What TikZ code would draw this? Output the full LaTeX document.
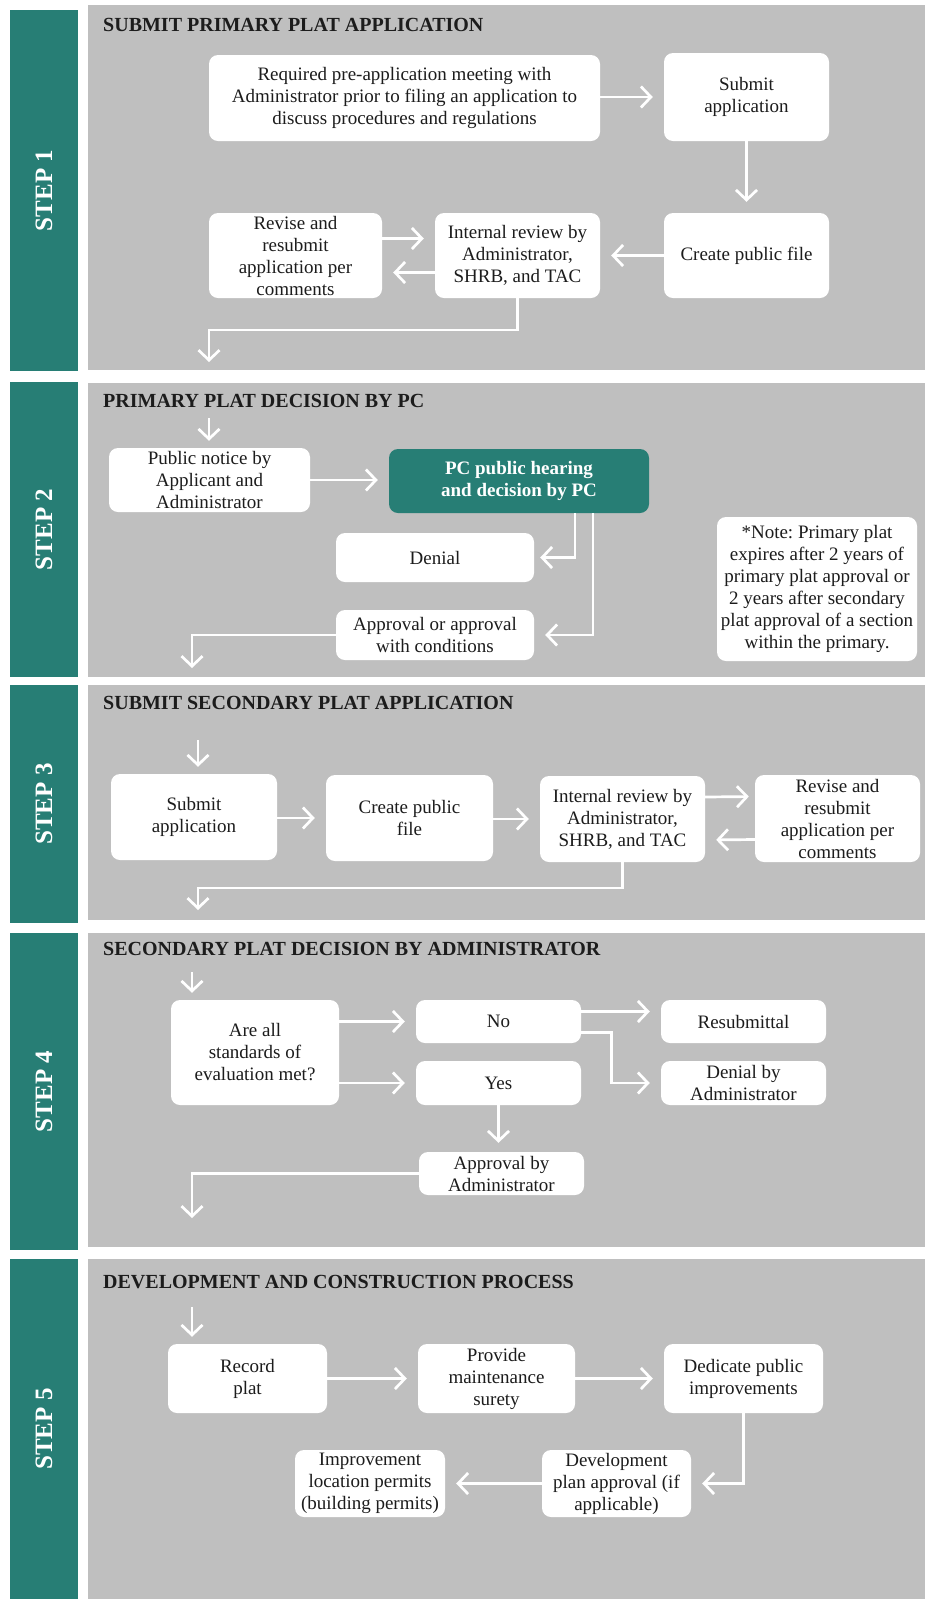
\documentclass[tikz,border=0pt]{standalone}
\usepackage{fontspec}
\setmainfont{Liberation Serif}
\usetikzlibrary{arrows.meta,calc}
\definecolor{stepteal}{RGB}{39,126,117}
\definecolor{panelgray}{RGB}{191,191,191}
\definecolor{inkgray}{RGB}{28,28,28}
\frenchspacing

\begin{document}
\begin{tikzpicture}[x=1pt,y=-1pt,
  box/.style={fill=white, rounded corners=9pt, align=center, inner sep=0pt,
    text=inkgray, font=\fontsize{19}{22}\selectfont},
  sz/.style 2 args={minimum width=#1pt, minimum height=#2pt},
  tealbox/.style={box, fill=stepteal, text=white, font=\bfseries\fontsize{19}{22}\selectfont},
  stepbar/.style={fill=stepteal, inner sep=0pt},
  panel/.style={fill=panelgray, inner sep=0pt},
  steplabel/.style={rotate=90, text=white, inner sep=0pt, font=\bfseries\fontsize{25}{25}\selectfont},
  heading/.style={anchor=west, inner sep=0pt, text=inkgray, font=\bfseries\fontsize{20}{20}\selectfont},
  link/.style={draw=white, line width=2.7pt, -{Straight Barb[length=10pt,width=21pt]}},
  arr/.style={link, shorten >=11pt},
  inarr/.style={link, shorten >=7pt},
  outarr/.style={link},
]
\fill[white] (0,0) rectangle (925,1599);
\useasboundingbox (0,0) rectangle (925,1599);

% ---------- bands: teal step bars and gray panels ----------
\node[panel, sz={837}{365}] (panel1) at (506.5,187.5) {};
\node[panel, sz={837}{294}] (panel2) at (506.5,530) {};
\node[panel, sz={837}{235}] (panel3) at (506.5,802.5) {};
\node[panel, sz={837}{314}] (panel4) at (506.5,1090) {};
\node[panel, sz={837}{340}] (panel5) at (506.5,1429) {};

\node[stepbar, sz={68}{361}] (bar1) at (44,190.5) {};
\node[stepbar, sz={68}{295}] (bar2) at (44,529.5) {};
\node[stepbar, sz={68}{238}] (bar3) at (44,804) {};
\node[stepbar, sz={68}{317}] (bar4) at (44,1091.5) {};
\node[stepbar, sz={68}{340}] (bar5) at (44,1429) {};

\node[steplabel] (lab1) at (bar1) {STEP 1};
\node[steplabel] (lab2) at (bar2) {STEP 2};
\node[steplabel] (lab3) at (bar3) {STEP 3};
\node[steplabel] (lab4) at (bar4) {STEP 4};
\node[steplabel] (lab5) at (bar5) {STEP 5};

% ---------- step 1 ----------
\node[heading] (h1) at (103,25) {SUBMIT PRIMARY PLAT APPLICATION};
\node[box, sz={391}{86}] (A) at (404.5,98) {Required pre-application meeting with\\Administrator prior to filing an application to\\discuss procedures and regulations};
\node[box, sz={165}{88}] (B) at (746.5,97) {Submit\\application};
\node[box, sz={165}{85}] (C) at (746.5,255.5) {Create public file};
\node[box, sz={165}{85}] (D) at (517.5,255.5) {Internal review by\\Administrator,\\SHRB, and TAC};
\node[box, sz={173}{85}] (E) at (295.5,255.5) {Revise and\\resubmit\\application per\\comments};
\coordinate (out1) at (209,362);

\draw[arr] (A.east |- B.west) -- (B.west);
\draw[arr] (B.south) -- (C.north);
\draw[arr] (C.west) -- (D.east);
\draw[arr] ($(E.east)+(0,-17)$) -- ($(D.west)+(0,-17)$);
\draw[arr] ($(D.west)+(0,17)$) -- ($(E.east)+(0,17)$);
\draw[outarr] (D.south) |- ($(out1)+(0,-32)$) -- (out1);

% ---------- step 2 ----------
\node[heading] (h2) at (103,401) {PRIMARY PLAT DECISION BY PC};
\coordinate (in2) at (209,418);
\node[box, sz={201}{64}] (F) at (209.5,480) {Public notice by\\Applicant and\\Administrator};
\node[tealbox, sz={260}{64}] (G) at (519,481) {PC public hearing\\and decision by PC};
\node[box, sz={198}{49}] (H) at (435,557.5) {Denial};
\node[box, sz={198}{50}] (I) at (435,635) {Approval or approval\\with conditions};
\node[box, sz={200}{144}] (J) at (817,589) {*Note: Primary plat\\expires after 2 years of\\primary plat approval or\\2 years after secondary\\plat approval of a section\\within the primary.};
\coordinate (out2) at (192,668);

\draw[inarr] (in2) -- (in2 |- F.north);
\draw[arr] (F.east) -- (F.east -| G.west);
\draw[link, shorten >=6pt] ($(G.south)+(56,0)$) |- (H.east);
\draw[arr] ($(G.south)+(74,0)$) |- (I.east);
\draw[outarr] (I.west) -| (out2);

% ---------- step 3 ----------
\node[heading] (h3) at (103,703) {SUBMIT SECONDARY PLAT APPLICATION};
\coordinate (in3) at (198,740);
\node[box, sz={166}{86}] (K) at (194,817) {Submit\\application};
\node[box, sz={167}{86}] (L) at (409.5,818) {Create public\\file};
\node[box, sz={165}{86}] (M) at (622.5,819) {Internal review by\\Administrator,\\SHRB, and TAC};
\node[box, sz={165}{87}] (N) at (837.5,818.5) {Revise and\\resubmit\\application per\\comments};
\coordinate (out3) at (198,910);

\draw[inarr] (in3) -- (in3 |- K.north);
\draw[arr] (K.east |- L.west) -- (L.west);
\draw[arr] (L.east |- M.west) -- (M.west);
\draw[link, shorten >=6pt] ($(M.east)+(0,-22)$) -- ($(N.west)+(0,-22)$);
\draw[arr] ($(N.west)+(0,21)$) -- ($(M.east)+(0,21)$);
\draw[outarr] (M.south) |- ($(out3)+(0,-22)$) -- (out3);

% ---------- step 4 ----------
\node[heading] (h4) at (103,949) {SECONDARY PLAT DECISION BY ADMINISTRATOR};
\coordinate (in4) at (192,972);
\node[box, sz={168}{105}] (O) at (255,1052.5) {Are all\\standards of\\evaluation met?};
\node[box, sz={165}{43}] (P) at (498.5,1021.5) {No};
\node[box, sz={165}{44}] (Q) at (498.5,1083) {Yes};
\node[box, sz={165}{43}] (R) at (743.5,1021.5) {Resubmittal};
\node[box, sz={165}{44}] (S) at (743.5,1083) {Denial by\\Administrator};
\node[box, sz={165}{43}] (T) at (501.5,1173.5) {Approval by\\Administrator};
\coordinate (out4) at (192,1218);

\draw[inarr] (in4) -- (in4 |- O.north);
\draw[arr] (O.east |- P.west) -- (P.west);
\draw[arr] (O.east |- Q.west) -- (Q.west);
\draw[arr] ($(P.east)+(0,-10)$) -- ($(R.west)+(0,-10)$);
\draw[arr] ($(P.east)+(0,11)$) -- ++(30,0) |- (S.west);
\draw[link, shorten >=9pt] (Q.south) -- (Q.south |- T.north);
\draw[outarr] (T.west) -| (out4);

% ---------- step 5 ----------
\node[heading] (h5) at (103,1282) {DEVELOPMENT AND CONSTRUCTION PROCESS};
\coordinate (in5) at (192,1307);
\node[box, sz={159}{69}] (U) at (247.5,1378.5) {Record\\plat};
\node[box, sz={157}{69}] (V) at (496.5,1378.5) {Provide\\maintenance\\surety};
\node[box, sz={159}{69}] (W) at (743.5,1378.5) {Dedicate public\\improvements};
\node[box, sz={149}{67}] (X) at (616.5,1483.5) {Development\\plan approval (if\\applicable)};
\node[box, sz={150}{67}] (Y) at (370,1483.5) {Improvement\\location permits\\(building permits)};

\draw[inarr] (in5) -- (in5 |- U.north);
\draw[arr] (U.east) -- (V.west);
\draw[arr] (V.east) -- (W.west);
\draw[arr] (W.south) |- (X.east);
\draw[arr] (X.west) -- (Y.east);
\end{tikzpicture}
\end{document}
